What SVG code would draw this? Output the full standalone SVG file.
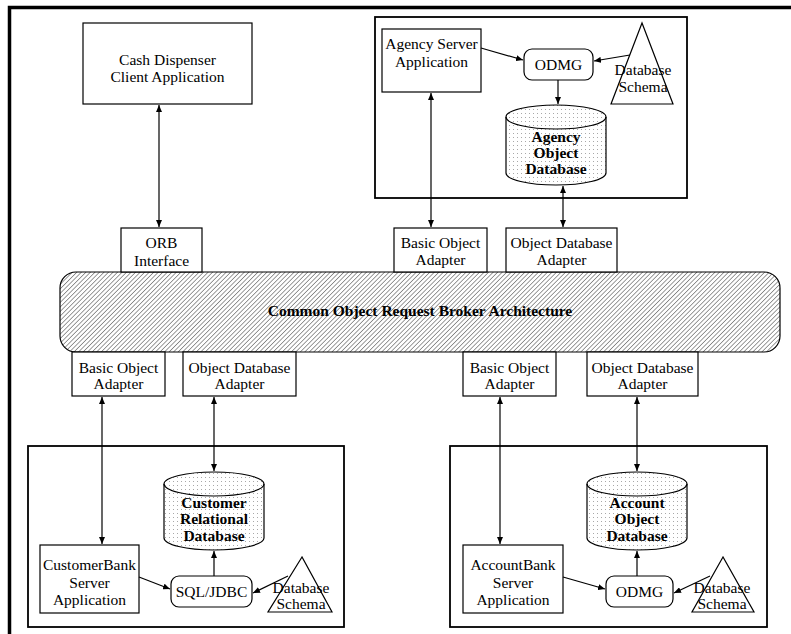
<svg xmlns="http://www.w3.org/2000/svg" width="791" height="634" viewBox="0 0 791 634">
<defs>
<style>
text{font-family:"Liberation Serif","Times New Roman",serif;font-size:15.5px;fill:#000;text-anchor:middle}
.b{font-weight:bold}
.box{fill:#fff;stroke:#000;stroke-width:1.2}
.cont{fill:#fff;stroke:#000;stroke-width:1.8}
.cyl{fill:url(#dots);stroke:#000;stroke-width:1.2}
.edge{fill:none;stroke:#000;stroke-width:1.2}
.c{fill:none;stroke:#000;stroke-width:1.2}
</style>
<pattern id="hatch" patternUnits="userSpaceOnUse" width="3.2" height="3.2" patternTransform="rotate(45)">
<rect width="3.2" height="3.2" fill="#fff"/>
<line x1="0" y1="0" x2="0" y2="3.2" stroke="#222" stroke-width="0.9"/>
</pattern>
<pattern id="dots" patternUnits="userSpaceOnUse" width="4" height="4">
<rect width="4" height="4" fill="#fff"/>
<rect x="1" y="1" width="0.8" height="0.8" fill="#777"/>
</pattern>
<marker id="ah" markerWidth="8" markerHeight="6" refX="7" refY="3" orient="auto-start-reverse" markerUnits="userSpaceOnUse">
<path d="M0,0 L7,3 L0,6 Z" fill="#000"/>
</marker>
</defs>

<path d="M9.5,634 V7.5 H791" fill="none" stroke="#000" stroke-width="3.5"/>

<g id="containers">
<rect id="agency-container" class="cont" x="375" y="17" width="312" height="181"/>
<rect id="customer-container" class="cont" x="28" y="446" width="316" height="181"/>
<rect id="account-container" class="cont" x="450" y="446" width="317" height="181"/>
</g>

<g id="corba">
<rect x="60" y="272" width="720" height="80" rx="16" ry="16" fill="url(#hatch)" stroke="#000" stroke-width="1.2"/>
<text class="b" x="420" y="316">Common Object Request Broker Architecture</text>
</g>

<g id="cash-dispenser">
<rect class="box" x="83" y="23" width="169" height="81"/>
<text x="167.5" y="65">Cash Dispenser</text>
<text x="167.5" y="82">Client Application</text>
</g>

<g id="orb-interface">
<rect class="box" x="121" y="228" width="81" height="44"/>
<text x="161.5" y="248">ORB</text>
<text x="161.5" y="266">Interface</text>
</g>

<g id="top-boa">
<rect class="box" x="394" y="228" width="93" height="44"/>
<text x="440.5" y="248">Basic Object</text>
<text x="440.5" y="265">Adapter</text>
</g>

<g id="top-odba">
<rect class="box" x="506" y="228" width="111" height="44"/>
<text x="561.5" y="248">Object Database</text>
<text x="561.5" y="265">Adapter</text>
</g>

<g id="bl-boa">
<rect class="box" x="72" y="352" width="93" height="44"/>
<text x="118.5" y="373">Basic Object</text>
<text x="118.5" y="389">Adapter</text>
</g>

<g id="bl-odba">
<rect class="box" x="183" y="352" width="113" height="44"/>
<text x="239.5" y="373">Object Database</text>
<text x="239.5" y="389">Adapter</text>
</g>

<g id="br-boa">
<rect class="box" x="463" y="352" width="93" height="44"/>
<text x="509.5" y="373">Basic Object</text>
<text x="509.5" y="389">Adapter</text>
</g>

<g id="br-odba">
<rect class="box" x="587" y="352" width="111" height="44"/>
<text x="642.5" y="373">Object Database</text>
<text x="642.5" y="389">Adapter</text>
</g>

<g id="agency-server">
<rect class="box" x="382" y="29" width="99" height="63"/>
<text x="431.5" y="49">Agency Server</text>
<text x="431.5" y="67">Application</text>
</g>

<g id="agency-odmg">
<rect class="box" x="524" y="49" width="69" height="31" rx="8" ry="8"/>
<text x="558.5" y="70">ODMG</text>
</g>

<g id="agency-schema">
<polygon class="c" points="642,23 611,104 673,104"/>
<text x="643" y="75">Database</text>
<text x="643" y="92">Schema</text>
</g>

<g id="agency-db">
<path class="cyl" d="M506,117 A50,12 0 0 1 606,117 V173 A50,12 0 0 1 506,173 Z"/>
<path class="c" d="M506,117 A50,12 0 0 0 606,117"/>
<text class="b" x="556" y="142">Agency</text>
<text class="b" x="556" y="158">Object</text>
<text class="b" x="556" y="174">Database</text>
</g>

<g id="customer-bank">
<rect class="box" x="40" y="545" width="99" height="68"/>
<text x="89.5" y="570">CustomerBank</text>
<text x="89.5" y="588">Server</text>
<text x="89.5" y="605">Application</text>
</g>

<g id="sql-jdbc">
<rect class="box" x="171" y="576" width="81" height="31" rx="8" ry="8"/>
<text x="211.5" y="597">SQL/JDBC</text>
</g>

<g id="customer-schema">
<polygon class="c" points="302,557 268,612 332,612"/>
<text x="301" y="593">Database</text>
<text x="301" y="609">Schema</text>
</g>

<g id="customer-db">
<path class="cyl" d="M164,484 A50,12 0 0 1 264,484 V538 A50,12 0 0 1 164,538 Z"/>
<path class="c" d="M164,484 A50,12 0 0 0 264,484"/>
<text class="b" x="214" y="508">Customer</text>
<text class="b" x="214" y="524">Relational</text>
<text class="b" x="214" y="541">Database</text>
</g>

<g id="account-bank">
<rect class="box" x="463" y="545" width="100" height="68"/>
<text x="513" y="570">AccountBank</text>
<text x="513" y="588">Server</text>
<text x="513" y="605">Application</text>
</g>

<g id="account-odmg">
<rect class="box" x="606" y="576" width="67" height="31" rx="8" ry="8"/>
<text x="639.5" y="597">ODMG</text>
</g>

<g id="account-schema">
<polygon class="c" points="723,557 692,612 754,612"/>
<text x="722" y="593">Database</text>
<text x="722" y="609">Schema</text>
</g>

<g id="account-db">
<path class="cyl" d="M587,484 A50,12 0 0 1 687,484 V538 A50,12 0 0 1 587,538 Z"/>
<path class="c" d="M587,484 A50,12 0 0 0 687,484"/>
<text class="b" x="637" y="508">Account</text>
<text class="b" x="637" y="524">Object</text>
<text class="b" x="637" y="541">Database</text>
</g>

<g id="connectors">
<line class="edge" x1="159" y1="105" x2="159" y2="227" marker-start="url(#ah)" marker-end="url(#ah)"/>
<line class="edge" x1="431" y1="93" x2="431" y2="227" marker-start="url(#ah)" marker-end="url(#ah)"/>
<line class="edge" x1="563" y1="186" x2="563" y2="227" marker-start="url(#ah)" marker-end="url(#ah)"/>
<line class="edge" x1="481" y1="48" x2="523" y2="60" marker-end="url(#ah)"/>
<line class="edge" x1="630" y1="55" x2="594" y2="61" marker-end="url(#ah)"/>
<line class="edge" x1="558" y1="80" x2="558" y2="104" marker-end="url(#ah)"/>

<line class="edge" x1="102" y1="397" x2="102" y2="544" marker-start="url(#ah)" marker-end="url(#ah)"/>
<line class="edge" x1="214" y1="397" x2="214" y2="471" marker-start="url(#ah)" marker-end="url(#ah)"/>
<line class="edge" x1="139" y1="577" x2="170" y2="589" marker-end="url(#ah)"/>
<line class="edge" x1="288" y1="576" x2="253" y2="593" marker-end="url(#ah)"/>
<line class="edge" x1="214" y1="576" x2="214" y2="551" marker-end="url(#ah)"/>

<line class="edge" x1="500" y1="397" x2="500" y2="544" marker-start="url(#ah)" marker-end="url(#ah)"/>
<line class="edge" x1="637" y1="397" x2="637" y2="471" marker-start="url(#ah)" marker-end="url(#ah)"/>
<line class="edge" x1="563" y1="577" x2="605" y2="589" marker-end="url(#ah)"/>
<line class="edge" x1="710" y1="576" x2="674" y2="593" marker-end="url(#ah)"/>
<line class="edge" x1="637" y1="576" x2="637" y2="551" marker-end="url(#ah)"/>
</g>
</svg>
